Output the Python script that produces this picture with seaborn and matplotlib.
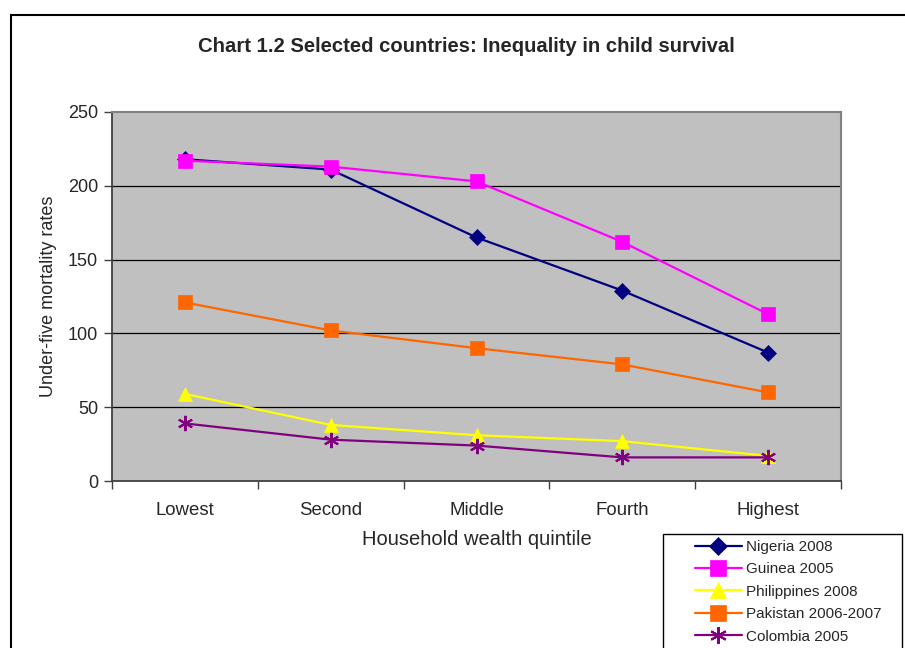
import numpy as np
import pandas as pd
import matplotlib
matplotlib.use("Agg")
import matplotlib.pyplot as plt
import seaborn as sns
from matplotlib.patches import Rectangle

# values
quintiles = ["Lowest", "Second", "Middle", "Fourth", "Highest"]
nigeria = [218, 211, 165, 129, 87]
guinea = [217, 213, 203, 162, 113]
philippines = [59, 38, 31, 27, 17]
pakistan = [121, 102, 90, 79, 60]
colombia = [39, 28, 24, 16, 16]

series_names = ["Nigeria 2008", "Guinea 2005", "Philippines 2008",
                "Pakistan 2006-2007", "Colombia 2005"]
series_vals = [nigeria, guinea, philippines, pakistan, colombia]
colors = ["#000080", "#FF00FF", "#FFFF00", "#FF6600", "#800080"]
markers = ["D", "s", "^", "s", (6, 2, 0)]
msizes = [8, 10, 10, 10, 11]

rows = []
for name, vals in zip(series_names, series_vals):
    for q, v in zip(quintiles, vals):
        rows.append({"quintile": q, "rate": v, "country": name})
df = pd.DataFrame(rows)

sns.set_style("white")
plt.rcParams["font.family"] = ["Liberation Sans", "DejaVu Sans"]

fig = plt.figure(figsize=(9.05, 6.48), dpi=100)
ax = fig.add_axes([112 / 905, 1 - 481 / 648, 729 / 905, 369 / 648])
ax.set_facecolor("#C0C0C0")

for i, name in enumerate(series_names):
    sub = df[df["country"] == name]
    sns.lineplot(data=sub, x="quintile", y="rate", ax=ax, color=colors[i],
                 marker=markers[i], markersize=msizes[i], markeredgecolor=colors[i],
                 markeredgewidth=1.5 if i == 4 else 0.5,
                 linewidth=1.6, label=name, sort=False)

ax.set_xlim(-0.5, 4.5)
ax.set_ylim(0, 250)
ax.set_yticks([0, 50, 100, 150, 200, 250])
for yv in [50, 100, 150, 200]:
    ax.axhline(yv, color="black", linewidth=0.9, zorder=1)

ax.set_xticks(range(len(quintiles)))
ax.set_xticklabels(quintiles)
ax.set_xticks(np.arange(-0.5, 5, 1), minor=True)
ax.tick_params(axis="x", which="major", length=0, labelsize=13.4, pad=15)
ax.tick_params(axis="x", which="minor", length=6, width=1, color="#404040",
               direction="out", bottom=True)
ax.tick_params(axis="y", length=6, width=1, color="#404040", direction="out",
               left=True, labelsize=13, pad=4)

for side in ["top", "right"]:
    ax.spines[side].set_color("#808080")
    ax.spines[side].set_linewidth(1.5)
for side in ["left", "bottom"]:
    ax.spines[side].set_color("#404040")
    ax.spines[side].set_linewidth(1.3)

ax.set_xlabel("Household wealth quintile", fontsize=14.5, labelpad=8)
ax.set_ylabel("Under-five mortality rates", fontsize=13, labelpad=8)

fig.text(466 / 905, 1 - 46 / 648,
         "Chart 1.2 Selected countries: Inequality in child survival",
         ha="center", va="center", fontsize=14.6, fontweight="bold")

leg = ax.legend(loc="upper left", bbox_to_anchor=(695 / 905, 1 - 540 / 648),
                bbox_transform=fig.transFigure, frameon=False, fontsize=11,
                handlelength=3.05, handletextpad=0.3, markerscale=1.1,
                labelspacing=0.55, borderaxespad=0, borderpad=0.0)

# legend box, cut off by the bottom edge as in the original
fig.patches.append(Rectangle((663 / 905, -0.1), 239 / 905, 1.1 - 534 / 648,
                             transform=fig.transFigure, fill=False,
                             edgecolor="black", linewidth=1.0))

# outer chart border (runs past the right and bottom edges)
fig.patches.append(Rectangle((11 / 905, -0.1), 1.0, 1.1 - 15 / 648,
                             transform=fig.transFigure, fill=False,
                             edgecolor="black", linewidth=1.5))

fig.savefig("out.png", dpi=100)
